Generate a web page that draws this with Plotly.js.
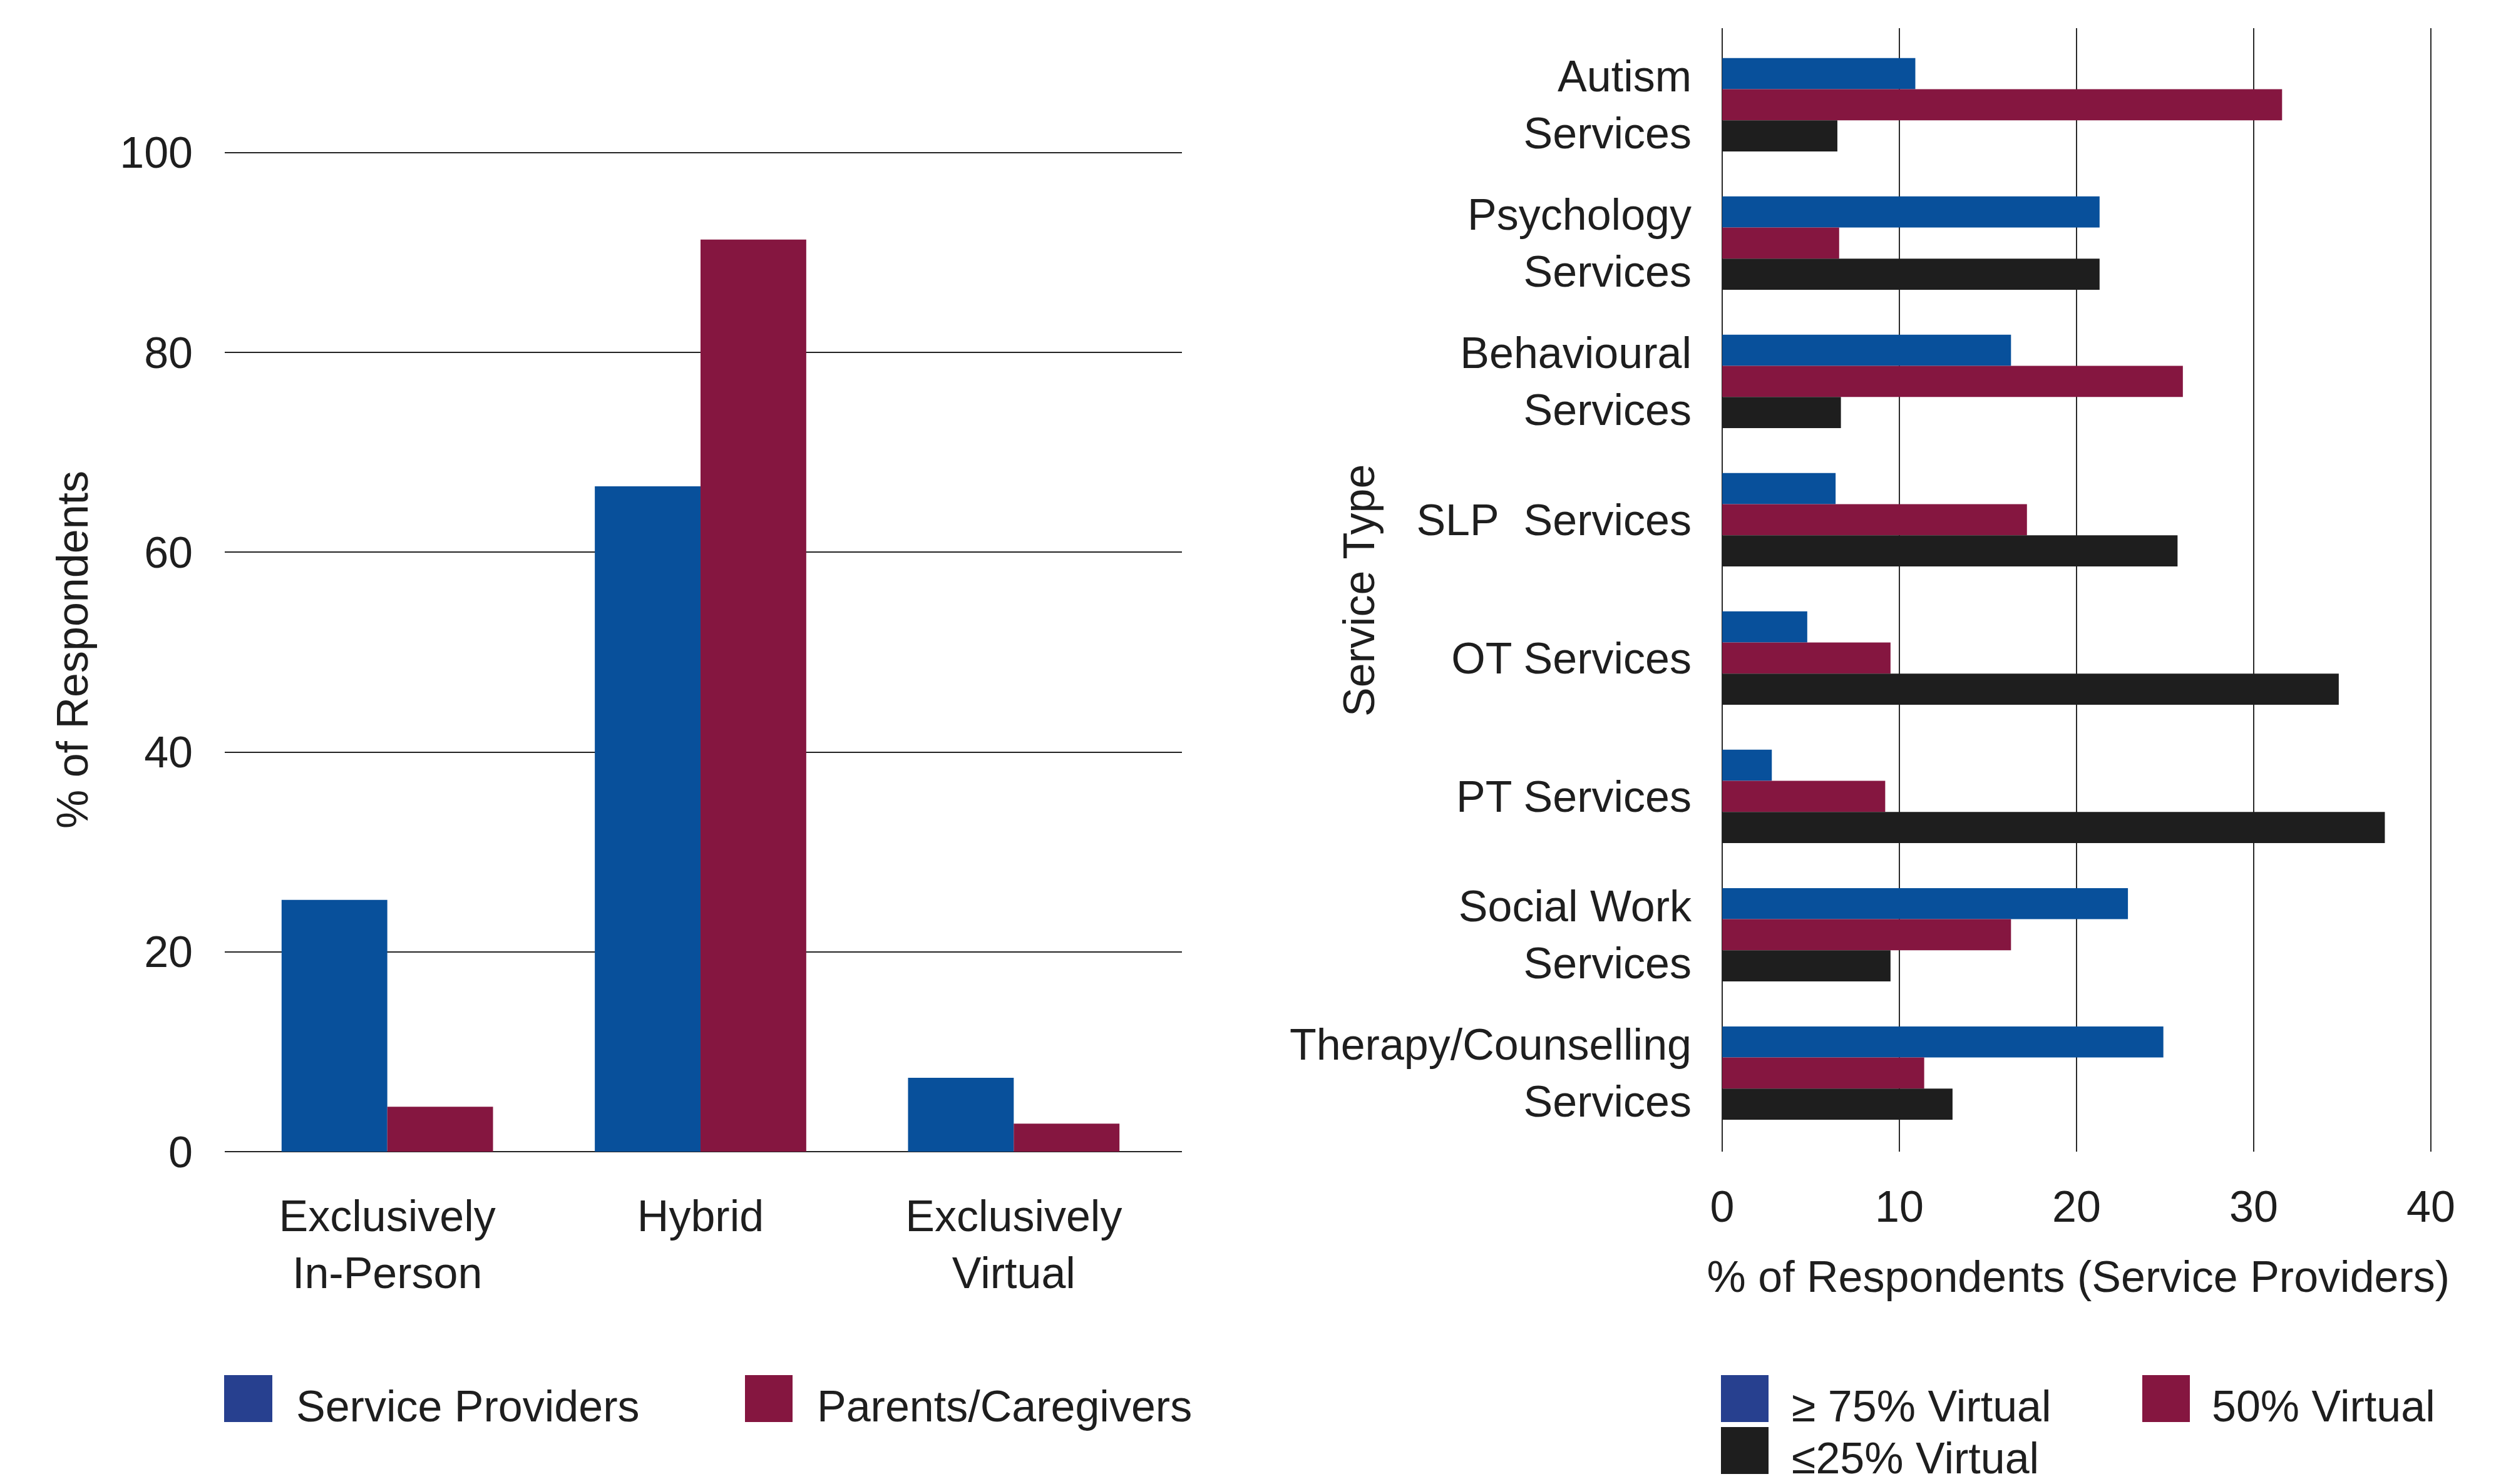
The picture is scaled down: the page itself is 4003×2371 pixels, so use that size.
<!DOCTYPE html>
<html>
<head>
<meta charset="utf-8">
<script src="https://cdn.plot.ly/plotly-3.0.1.min.js"></script>
<style>
  html, body { margin: 0; padding: 0; background: #ffffff; }
  #chart { width: 4003px; height: 2371px; }
</style>
</head>
<body>
<div id="chart"></div>
<script>
// ---- Data: left chart (mode of service delivery) ----
const modeCategories = ['Exclusively<br>In-Person', 'Hybrid', 'Exclusively<br>Virtual'];
const serviceProviders = [25.2, 66.6, 7.4];
const parentsCaregivers = [4.5, 91.3, 2.8];
const leftSeriesNames = ['Service Providers', 'Parents/Caregivers'];

// ---- Data: right chart (service types, % virtual) ----
const serviceTypes = [
  'Autism<br>Services',
  'Psychology<br>Services',
  'Behavioural<br>Services',
  'SLP\u00a0 Services',
  'OT Services',
  'PT Services',
  'Social Work<br>Services',
  'Therapy/Counselling<br>Services'
];
const virtual75 = [10.9, 21.3, 16.3, 6.4, 4.8, 2.8, 22.9, 24.9];
const virtual50 = [31.6, 6.6, 26.0, 17.2, 9.5, 9.2, 16.3, 11.4];
const virtual25 = [6.5, 21.3, 6.7, 25.7, 34.8, 37.4, 9.5, 13.0];
const rightSeriesNames = ['\u2265 75% Virtual', '50% Virtual', '\u226425% Virtual'];

const leftTicks = [0, 20, 40, 60, 80, 100];
const rightTicks = [0, 10, 20, 30, 40];

// ---- Styling ----
const W = 4003, H = 2371;
const BLUE = '#08509b';
const RED = '#851640';
const BLACK = '#1e1e1e';
const LEGEND_BLUE = '#27408f';
const TEXT = '#1e1e1e';
const FONT = 'Liberation Sans, Arial, sans-serif';
const FS = 70;

const px = v => v / W;
const py = v => 1 - v / H;

const traces = [
  { type: 'bar', name: leftSeriesNames[0], x: modeCategories, y: serviceProviders,
    marker: { color: BLUE }, xaxis: 'x', yaxis: 'y' },
  { type: 'bar', name: leftSeriesNames[1], x: modeCategories, y: parentsCaregivers,
    marker: { color: RED }, xaxis: 'x', yaxis: 'y' },
  { type: 'bar', orientation: 'h', name: rightSeriesNames[0], y: serviceTypes, x: virtual75,
    marker: { color: BLUE }, xaxis: 'x2', yaxis: 'y2' },
  { type: 'bar', orientation: 'h', name: rightSeriesNames[1], y: serviceTypes, x: virtual50,
    marker: { color: RED }, xaxis: 'x2', yaxis: 'y2' },
  { type: 'bar', orientation: 'h', name: rightSeriesNames[2], y: serviceTypes, x: virtual25,
    marker: { color: BLACK }, xaxis: 'x2', yaxis: 'y2' }
];

// Manual legends (large swatches)
const legendItems = [
  { sw: [358, 435, 2197, 2272], color: LEGEND_BLUE, tx: 471, ty: 2247, text: leftSeriesNames[0] },
  { sw: [1190, 1266, 2197, 2272], color: RED, tx: 1303, ty: 2247, text: leftSeriesNames[1] },
  { sw: [2749, 2825, 2197, 2272], color: LEGEND_BLUE, tx: 2860, ty: 2247, text: rightSeriesNames[0] },
  { sw: [3422, 3498, 2197, 2272], color: RED, tx: 3531, ty: 2247, text: rightSeriesNames[1] },
  { sw: [2749, 2825, 2280, 2355], color: BLACK, tx: 2860, ty: 2330, text: rightSeriesNames[2] }
];

const shapes = legendItems.map(it => ({
  type: 'rect', xref: 'paper', yref: 'paper',
  x0: px(it.sw[0]), x1: px(it.sw[1]), y0: py(it.sw[3]), y1: py(it.sw[2]),
  fillcolor: it.color, line: { width: 0 }
}));

const annotations = legendItems.map(it => ({
  xref: 'paper', yref: 'paper', x: px(it.tx), y: py(it.ty),
  xanchor: 'left', yanchor: 'middle', showarrow: false, text: it.text,
  font: { family: FONT, size: FS, color: TEXT }
}));

annotations.push({
  xref: 'paper', yref: 'paper', x: px(2171), y: py(944),
  xanchor: 'center', yanchor: 'middle', textangle: -90, showarrow: false,
  text: 'Service Type', font: { family: FONT, size: FS, color: TEXT }
});

const layout = {
  width: W, height: H,
  margin: { l: 0, r: 0, t: 0, b: 0, pad: 0 },
  paper_bgcolor: '#ffffff', plot_bgcolor: '#ffffff',
  font: { family: FONT, size: FS, color: TEXT },
  barmode: 'group', bargap: 0.325, bargroupgap: 0,
  showlegend: false,
  xaxis: {
    domain: [px(359), px(1888)], anchor: 'y', type: 'category',
    range: [-0.519, 2.537], autorange: false,
    showgrid: false, zeroline: false, showline: false, ticks: '',
    ticklabelstandoff: 56, tickfont: { family: FONT, size: FS, color: TEXT },
    fixedrange: true
  },
  yaxis: {
    domain: [py(1840), py(236)], anchor: 'x',
    range: [0, 100.5], autorange: false,
    tickmode: 'array', tickvals: leftTicks, ticktext: leftTicks.map(String),
    showgrid: true, gridcolor: '#222222', gridwidth: 2,
    zeroline: true, zerolinecolor: '#222222', zerolinewidth: 2.5,
    showline: false, ticks: '', ticklabelstandoff: 50,
    tickfont: { family: FONT, size: FS, color: TEXT },
    title: { text: '% of Respondents', font: { family: FONT, size: FS, color: TEXT }, standoff: 27 },
    automargin: false, fixedrange: true
  },
  xaxis2: {
    domain: [px(2751), px(3888.7)], anchor: 'y2',
    range: [0, 40.2], autorange: false,
    tickmode: 'array', tickvals: rightTicks, ticktext: rightTicks.map(String),
    showgrid: true, gridcolor: '#2a2a2a', gridwidth: 2.5,
    zeroline: true, zerolinecolor: '#2a2a2a', zerolinewidth: 2.5,
    showline: false, ticks: '', ticklabelstandoff: 41,
    tickfont: { family: FONT, size: FS, color: TEXT },
    title: { text: '% of Respondents (Service Providers)', font: { family: FONT, size: FS, color: TEXT }, standoff: 48 },
    automargin: false, fixedrange: true
  },
  yaxis2: {
    domain: [py(1840), py(45)], anchor: 'x2', type: 'category',
    range: [7.568, -0.554], autorange: false,
    showgrid: false, zeroline: false, showline: false, ticks: '',
    ticklabelstandoff: 48,
    tickfont: { family: FONT, size: FS, color: TEXT },
    automargin: false, fixedrange: true
  },
  shapes: shapes,
  annotations: annotations
};

Plotly.newPlot('chart', traces, layout, { displayModeBar: false, staticPlot: true });
</script>
</body>
</html>
